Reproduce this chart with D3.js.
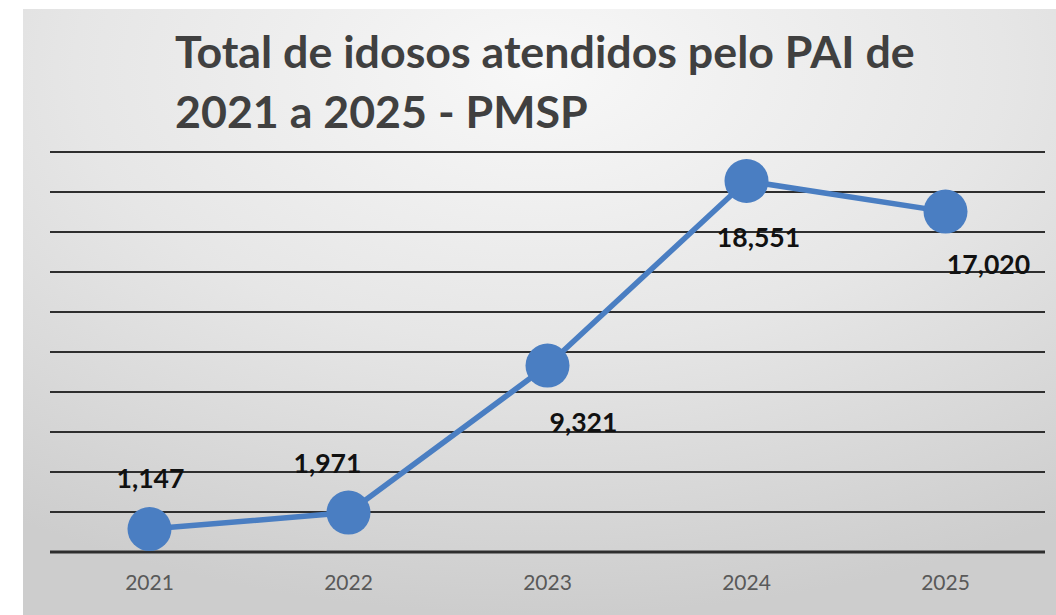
<!DOCTYPE html>
<html><head><meta charset="utf-8">
<script src="https://cdn.jsdelivr.net/npm/d3@7"></script>
<style>html,body{margin:0;padding:0;background:#fff;}svg{display:block;}</style>
</head><body>
<script>
const categories = ["2021","2022","2023","2024","2025"];
const values = [1147, 1971, 9321, 18551, 17020];
const valueLabels = ["1,147","1,971","9,321","18,551","17,020"];
const yTicks = [0,2000,4000,6000,8000,10000,12000,14000,16000,18000,20000];
const titleLines = ["Total de idosos atendidos pelo PAI de","2021 a 2025 - PMSP"];

const W = 1056, H = 615;
const FONT = "Lato, 'Open Sans', sans-serif";
const svg = d3.select("body").append("svg").attr("width", W).attr("height", H);
const defs = svg.append("defs");
const lg = defs.append("radialGradient").attr("id","bg").attr("cx","0.5").attr("cy","0.1").attr("r","0.9");
lg.append("stop").attr("offset","0").attr("stop-color","#f8f8f8");
lg.append("stop").attr("offset","0.5").attr("stop-color","#e6e6e6");
lg.append("stop").attr("offset","1").attr("stop-color","#cdcdcd");
svg.append("rect").attr("x",23).attr("y",9).attr("width",W-23).attr("height",H-9).attr("fill","url(#bg)");

const x = d3.scaleBand().domain(categories).range([50, 1045]);
const y = d3.scaleLinear().domain([0,20000]).range([552,152]);

// gridlines
svg.append("g").selectAll("line").data(yTicks).join("line")
  .attr("x1",50).attr("x2",1045)
  .attr("y1",d=>y(d)).attr("y2",d=>y(d))
  .attr("stroke","#2e2e2e").attr("stroke-width",d=>d===0?3:2);

// x axis labels
const xAxis = d3.axisBottom(x).tickSize(0).tickPadding(0);
const gx = svg.append("g").attr("transform","translate(0,575)").call(xAxis);
gx.select(".domain").remove();
gx.selectAll("text").attr("font-family",FONT).attr("font-size",21).attr("fill","#595959").attr("dy","0.71em");

// title
const tt = svg.append("g").selectAll("text").data(titleLines).join("text")
  .attr("x",175).attr("y",(d,i)=>68+i*60)
  .attr("font-family",FONT).attr("font-weight","bold")
  .attr("font-size",40).attr("fill","#404040").text(d=>d);
const w0 = tt.nodes()[0].getComputedTextLength();
tt.attr("font-size", 40*740/w0);

const cx = d=>x(d)+x.bandwidth()/2;
const line = d3.line().x((d,i)=>cx(categories[i])).y(d=>y(d));
svg.append("path").datum(values).attr("d",line).attr("fill","none")
  .attr("stroke","#4a7ec2").attr("stroke-width",5.5).attr("stroke-linejoin","round");
svg.append("g").selectAll("circle").data(values).join("circle")
  .attr("cx",(d,i)=>cx(categories[i])).attr("cy",d=>y(d)).attr("r",22)
  .attr("fill","#4a7ec2");

const labelOffsets = [[1,-41],[-21,-40],[36,66],[12,66],[43,62]];
const lt = svg.append("g").selectAll("text").data(values).join("text")
  .attr("x",(d,i)=>cx(categories[i])+labelOffsets[i][0])
  .attr("y",(d,i)=>y(d)+labelOffsets[i][1])
  .attr("text-anchor","middle")
  .attr("font-family",FONT).attr("font-weight","bold")
  .attr("font-size",22).attr("fill","#111")
  .text((d,i)=>valueLabels[i]);
const lw = lt.nodes()[0].getComputedTextLength();
lt.attr("font-size", 22*68/lw);
</script>
</body></html>
